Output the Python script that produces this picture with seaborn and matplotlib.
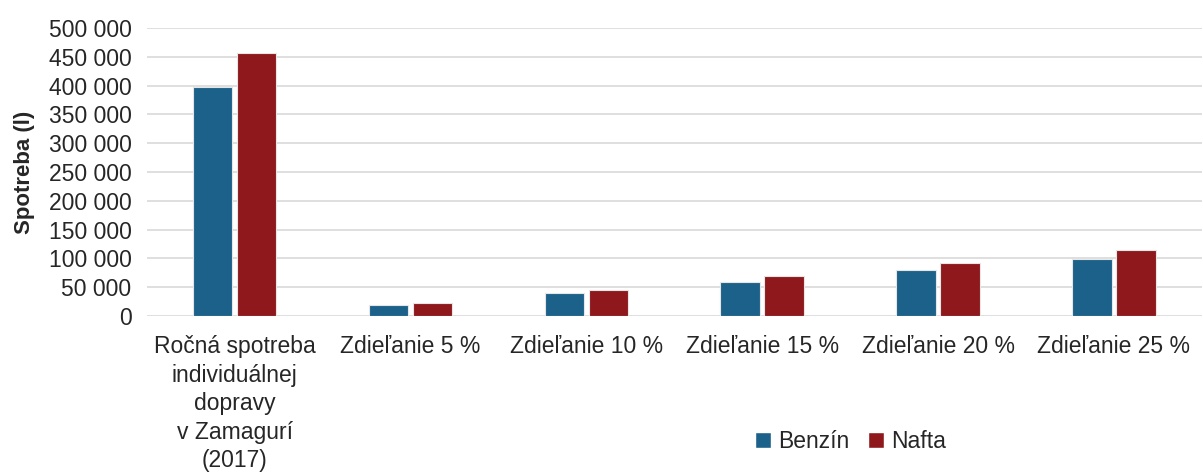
import pandas as pd
import seaborn as sns
import matplotlib.pyplot as plt
from matplotlib.ticker import FuncFormatter, MultipleLocator
from matplotlib.patches import Patch

categories = ['Ročná spotreba\nindividuálnej\ndopravy\nv Zamagurí\n(2017)',
              'Zdieľanie 5 %', 'Zdieľanie 10 %', 'Zdieľanie 15 %',
              'Zdieľanie 20 %', 'Zdieľanie 25 %']
benzin = [397000, 19850, 39700, 59550, 79400, 99250]
nafta = [457000, 22850, 45700, 68550, 91400, 114250]
series_names = ['Benzín', 'Nafta']
colors = ['#1b6189', '#8e181b']

df = pd.DataFrame({
    'kategoria': categories * 2,
    'palivo': [series_names[0]] * len(categories) + [series_names[1]] * len(categories),
    'spotreba': benzin + nafta,
})

sns.set_theme(style='white')
plt.rcParams['font.family'] = ['Liberation Sans', 'DejaVu Sans']
plt.rcParams['text.color'] = '#262626'

fig = plt.figure(figsize=(12.03, 4.73), dpi=100)
ax = fig.add_axes([0.122, 0.332, 0.877, 0.609])

sns.barplot(data=df, x='kategoria', y='spotreba', hue='palivo',
            palette=colors, saturation=1, width=0.5, gap=0.1, ax=ax,
            edgecolor='#e6e6e6', linewidth=0.8, legend=False)

ax.set_ylim(0, 500000)
ax.yaxis.set_major_locator(MultipleLocator(50000))
ax.yaxis.set_major_formatter(FuncFormatter(lambda v, p: f'{int(v):,}'.replace(',', ' ')))
ax.grid(axis='y', color='#d9d9d9', linewidth=1.2)
ax.set_axisbelow(True)
for s in ax.spines.values():
    s.set_visible(False)
ax.tick_params(axis='both', length=0, labelsize=16.5, colors='#262626')
ax.tick_params(axis='x', pad=14)
ax.tick_params(axis='y', pad=11)
for lbl in ax.get_xticklabels():
    lbl.set_linespacing(1.3)
ax.set_xlabel('')
ax.set_ylabel('Spotreba (l)', fontsize=16, fontweight='bold', labelpad=10)
ax.set_xlim(-0.5, len(categories) - 0.5)

handles = [Patch(facecolor=c, label=n) for c, n in zip(colors, series_names)]
fig.legend(handles=handles, loc='center', bbox_to_anchor=(0.707, 0.066), ncol=2,
           frameon=False, fontsize=16.5, handlelength=0.7, handleheight=0.7,
           handletextpad=0.3, columnspacing=0.8)

fig.savefig('out.png', dpi=100)
